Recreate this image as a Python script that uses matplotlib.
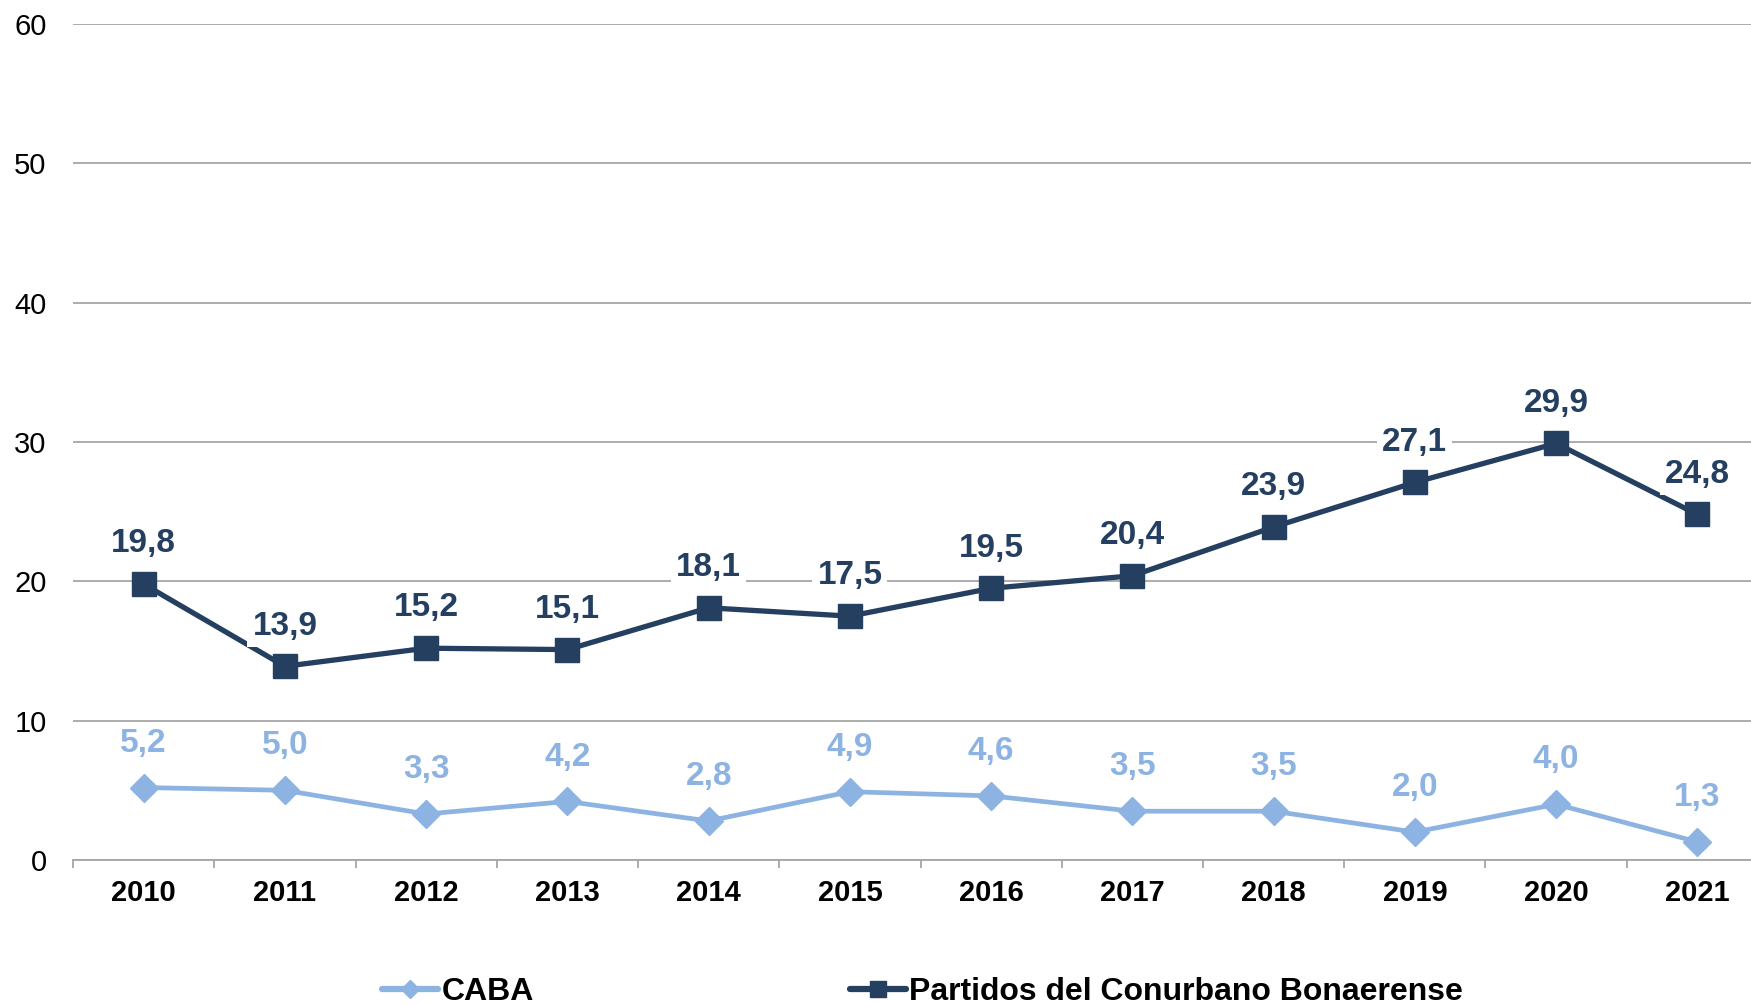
import numpy as np
import matplotlib
matplotlib.use("Agg")
from matplotlib import pyplot as plt

years = ["2010", "2011", "2012", "2013", "2014", "2015", "2016", "2017", "2018", "2019", "2020", "2021"]
caba = [5.2, 5.0, 3.3, 4.2, 2.8, 4.9, 4.6, 3.5, 3.5, 2.0, 4.0, 1.3]
conurbano = [19.8, 13.9, 15.2, 15.1, 18.1, 17.5, 19.5, 20.4, 23.9, 27.1, 29.9, 24.8]
y_ticks = [0, 10, 20, 30, 40, 50, 60]

light = "#8DB3E2"
dark = "#243F60"
grid_col = "#A6A6A6"

plt.rcParams['font.family'] = ['Liberation Sans', 'DejaVu Sans']

fig = plt.figure(figsize=(17.51, 10.05), dpi=100)
ax = fig.add_axes([0.0417, 0.1443, 0.968, 0.8318])

x = np.arange(len(years))
ax.plot(x, caba, color=light, lw=3.4, marker="D", ms=14, label="CABA", zorder=3)
ax.plot(x, conurbano, color=dark, lw=3.8, marker="s", ms=17, label="Partidos del Conurbano Bonaerense", zorder=3)

def fmt(v):
    return ("%.1f" % v).replace(".", ",")

for xi, v in zip(x, caba):
    ax.annotate(fmt(v), (xi, v), xytext=(0, 32), textcoords="offset points",
                ha="center", va="center", fontsize=24, fontweight="bold", color=light,
                bbox=dict(boxstyle="square,pad=0.15", fc="white", ec="none"), zorder=4)
for xi, v in zip(x, conurbano):
    ax.annotate(fmt(v), (xi, v), xytext=(0, 29), textcoords="offset points",
                ha="center", va="center", fontsize=24, fontweight="bold", color=dark,
                bbox=dict(boxstyle="square,pad=0.15", fc="white", ec="none"), zorder=4)

ax.set_xlim(-0.5, len(years) - 0.5)
ax.set_ylim(0, 60)
ax.set_yticks(y_ticks)
ax.set_yticklabels([str(t) for t in y_ticks], fontsize=21)
ax.tick_params(axis="y", length=0, pad=19)
ax.yaxis.grid(True, color=grid_col, lw=1.3)
ax.set_axisbelow(True)

ax.set_xticks(x)
ax.set_xticklabels(years, fontsize=21, fontweight="bold")
ax.set_xticks(np.arange(-0.5, len(years)), minor=True)
ax.tick_params(axis="x", which="major", length=0, pad=14)
ax.tick_params(axis="x", which="minor", length=6, width=1.3, color=grid_col, direction="out")

for s in ["top", "right", "left"]:
    ax.spines[s].set_visible(False)
ax.spines["bottom"].set_color(grid_col)
ax.spines["bottom"].set_linewidth(1.3)

leg = fig.legend(loc="center", bbox_to_anchor=(0.527, 0.013), ncol=2, frameon=False,
                 prop={"size": 23, "weight": "bold"}, handlelength=1.75, handletextpad=0.1,
                 columnspacing=9.9, borderpad=0, markerscale=0.68)
for h in leg.get_lines():
    h.set_linewidth(4.5)
    h.set_solid_capstyle("round")

fig.savefig("out.png", dpi=100)
